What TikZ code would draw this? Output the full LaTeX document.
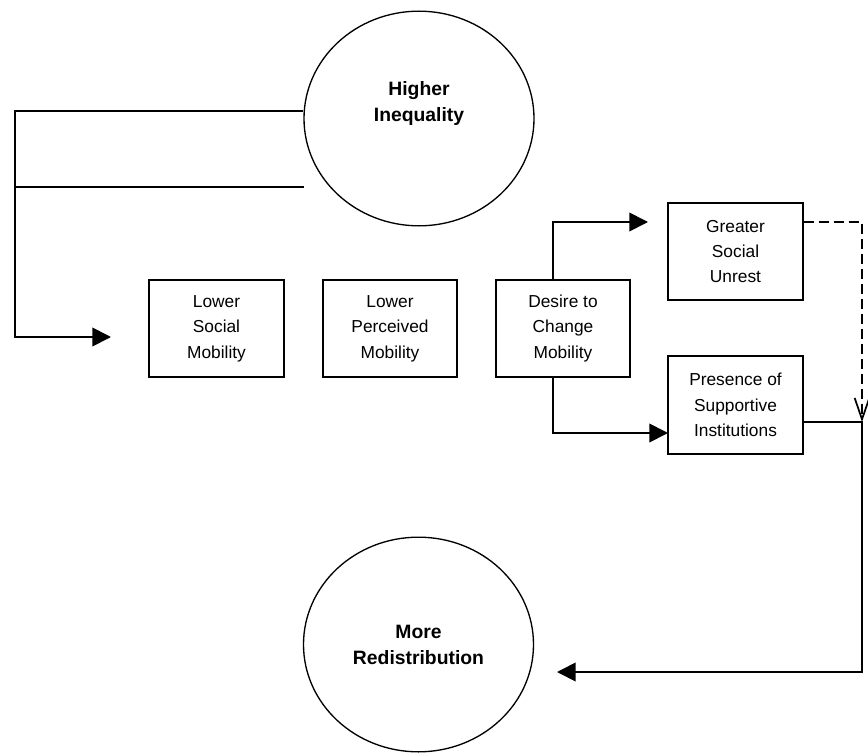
\documentclass[tikz,border=0pt]{standalone}
\usepackage{fontspec}
\setmainfont{Liberation Sans}
\usetikzlibrary{positioning, arrows.meta, shapes.geometric}

\begin{document}
\begin{tikzpicture}[x=0.75pt, y=-0.75pt, line width=1.3pt,
    every node/.style={font=\fontsize{13}{19}\selectfont},
    factor/.style={draw, rectangle, minimum width=101pt, minimum height=73pt, align=center, inner sep=2pt},
    outcome/.style={draw, ellipse, line width=1pt, minimum width=172.5pt, minimum height=161pt, align=center, inner sep=0pt, font=\bfseries\fontsize{14.5}{19.5}\selectfont},
    tip/.style={-{Triangle[length=14pt, width=14pt]}},
    flow/.style={dash pattern=on 7.5pt off 3.75pt, -{Straight Barb[length=16pt, width=11pt]}}]
    \useasboundingbox (0,0) rectangle (868,753);

    % Outcomes
    \node[outcome] (ineq) at (419,118.5) {Higher\\Inequality\\\strut};
    \node[outcome] (redist) at (418.5,644.5) {More\\Redistribution};

    % Chain of factors
    \node[factor] (lsm) at (216.5,328.5) {Lower\\Social\\Mobility};
    \node[factor] (lpm) at (390,328.5) {Lower\\Perceived\\Mobility};
    \node[factor] (dcm) at (563,328.5) {Desire to\\Change\\Mobility};
    \node[factor] (gsu) at (735.5,251.5) {Greater\\Social\\Unrest};
    \node[factor] (psi) at (735.5,405) {Presence of\\Supportive\\Institutions};

    % Turning points
    \coordinate (feedTop) at (15,111);
    \coordinate (feedMid) at (304,187);
    \coordinate (feedEnd) at (111,337);
    \coordinate (splitX) at (553,0);
    \coordinate (unrestIn) at (648,222);
    \coordinate (supportIn) at (668,433);
    \coordinate (rail) at (862,422);
    \coordinate (redistIn) at (557,672);

    % Feedback from inequality
    \draw[tip] (ineq.west |- feedTop) -- (feedTop) |- (feedEnd);
    \draw (feedMid) -- (feedTop |- feedMid);

    % Split from desire
    \draw[tip] (splitX |- dcm.north) |- (unrestIn);
    \draw[tip] (splitX |- dcm.south) |- (supportIn);

    % Towards redistribution
    \draw[flow] (gsu.east |- unrestIn) -| (rail);
    \draw[tip] (psi.east |- rail) -- (rail) |- (redistIn);
\end{tikzpicture}
\end{document}
